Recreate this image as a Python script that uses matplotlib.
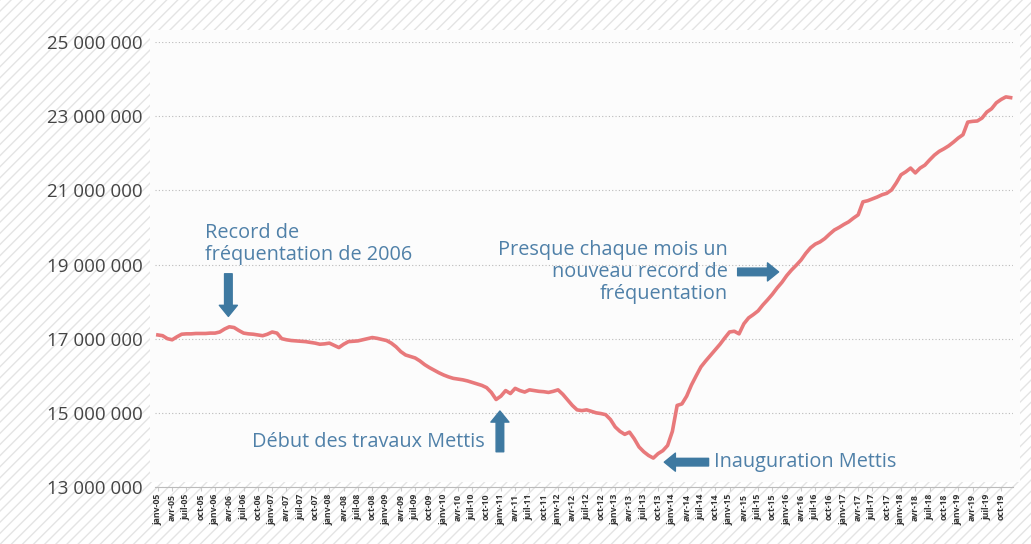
import numpy as np
import matplotlib
matplotlib.use("Agg")
import matplotlib.pyplot as plt
from matplotlib.patches import Rectangle
from matplotlib.ticker import FuncFormatter

# Fréquentation mensuelle (cumul 12 mois), en millions, janv-05 -> déc-19
v2005 = [17.10, 17.08, 17.00, 16.97, 17.05, 17.12, 17.13, 17.13, 17.14, 17.14, 17.14, 17.15]
v2006 = [17.15, 17.18, 17.26, 17.32, 17.30, 17.22, 17.15, 17.13, 17.12, 17.10, 17.08, 17.12]
v2007 = [17.18, 17.15, 17.00, 16.97, 16.95, 16.94, 16.93, 16.92, 16.90, 16.88, 16.85, 16.86]
v2008 = [16.88, 16.82, 16.76, 16.85, 16.92, 16.93, 16.94, 16.97, 17.00, 17.03, 17.01, 16.98]
v2009 = [16.95, 16.88, 16.78, 16.65, 16.56, 16.52, 16.48, 16.40, 16.30, 16.22, 16.15, 16.08]
v2010 = [16.02, 15.97, 15.93, 15.91, 15.89, 15.86, 15.82, 15.78, 15.74, 15.68, 15.55, 15.36]
v2011 = [15.45, 15.60, 15.52, 15.66, 15.60, 15.56, 15.62, 15.60, 15.58, 15.57, 15.55, 15.58]
v2012 = [15.62, 15.50, 15.35, 15.20, 15.08, 15.06, 15.08, 15.04, 15.00, 14.98, 14.95, 14.82]
v2013 = [14.62, 14.50, 14.42, 14.48, 14.30, 14.08, 13.95, 13.85, 13.78, 13.90, 13.98, 14.12]
v2014 = [14.50, 15.20, 15.24, 15.45, 15.75, 16.00, 16.24, 16.40, 16.55, 16.70, 16.85, 17.02]
v2015 = [17.18, 17.20, 17.13, 17.40, 17.56, 17.65, 17.75, 17.91, 18.05, 18.20, 18.37, 18.52]
v2016 = [18.70, 18.85, 18.98, 19.12, 19.30, 19.45, 19.55, 19.61, 19.70, 19.82, 19.93, 20.00]
v2017 = [20.08, 20.15, 20.25, 20.34, 20.69, 20.72, 20.77, 20.82, 20.88, 20.92, 21.01, 21.20]
v2018 = [21.42, 21.50, 21.60, 21.47, 21.60, 21.68, 21.82, 21.95, 22.05, 22.12, 22.20, 22.30]
v2019 = [22.41, 22.50, 22.84, 22.86, 22.87, 22.95, 23.11, 23.20, 23.36, 23.45, 23.52, 23.50]

years = list(range(2005, 2020))
month_names = ["janv", "avr", "juil", "oct"]
tick_labels = [f"{m}-{str(y)[2:]}" for y in years for m in month_names]

values = np.array(v2005 + v2006 + v2007 + v2008 + v2009 + v2010 + v2011 + v2012
                  + v2013 + v2014 + v2015 + v2016 + v2017 + v2018 + v2019) * 1e6
months = np.arange(len(values))

text_col = "#4f80a8"
arrow_col = "#3e79a1"
line_col = "#e8797b"

plt.rcParams["font.family"] = ["Open Sans", "DejaVu Sans"]
plt.rcParams["hatch.linewidth"] = 1.0
plt.rcParams["hatch.color"] = "#e4e4e4"

fig = plt.figure(figsize=(10.31, 5.44), dpi=100)
fig.patch.set_facecolor("white")
# fond hachuré + zone claire
fig.patches.append(Rectangle((0, 0), 1, 1, transform=fig.transFigure,
                             facecolor="white", edgecolor="#e4e4e4", hatch="///",
                             linewidth=0, zorder=-10))
fig.patches.append(Rectangle((150 / 1031, 1 - 482 / 544), 870 / 1031, 452 / 544,
                             transform=fig.transFigure, facecolor="#fcfcfc",
                             edgecolor="none", zorder=-9))

ax = fig.add_axes([155 / 1031, 1 - 487 / 544, 858 / 1031, 445 / 544])
ax.set_facecolor("none")

ax.plot(months, values, color=line_col, lw=2.6, solid_joinstyle="round")

ax.set_xlim(-0.6, 179.5)
ax.set_ylim(13e6, 25e6)
ax.set_yticks(np.arange(13e6, 25.1e6, 2e6))
ax.yaxis.set_major_formatter(FuncFormatter(lambda v, p: f"{int(v):,}".replace(",", " ")))
ax.set_xticks(np.arange(0, 180, 3))
ax.set_xticklabels(tick_labels, rotation=90, fontsize=6.3, fontweight="bold", color="#333333")

ax.grid(axis="y", linestyle=(0, (1, 2)), color="#bbbbbb", lw=0.8)
ax.set_axisbelow(True)
for s in ["top", "right", "left"]:
    ax.spines[s].set_visible(False)
ax.spines["bottom"].set_color("#bbbbbb")
ax.tick_params(axis="y", length=0, labelsize=13.5, labelcolor="#444444", pad=9)
ax.tick_params(axis="x", length=3, color="#cccccc", pad=2)

arrow = dict(arrowstyle="simple,head_length=0.8,head_width=1.3,tail_width=0.55",
             color=arrow_col, shrinkA=0, shrinkB=0)
fs = 14.3

# Record 2006
ax.annotate("", xy=(14.8, 17.6e6), xytext=(14.8, 18.75e6), arrowprops=arrow)
ax.text(9.9, 20.12e6, "Record de\nfréquentation de 2006", color=text_col, fontsize=fs,
        ha="left", va="top", linespacing=1.15)

# Début des travaux
ax.annotate("", xy=(71.8, 15.05e6), xytext=(71.8, 13.95e6), arrowprops=arrow)
ax.text(68.6, 14.22e6, "Début des travaux Mettis", color=text_col, fontsize=fs,
        ha="right", va="center")

# Inauguration
ax.annotate("", xy=(106.3, 13.67e6), xytext=(115.6, 13.67e6), arrowprops=arrow)
ax.text(116.7, 13.67e6, "Inauguration Mettis", color=text_col, fontsize=fs,
        ha="left", va="center")

# Nouveaux records
ax.annotate("", xy=(130.3, 18.8e6), xytext=(121.7, 18.8e6), arrowprops=arrow)
ax.text(119.6, 18.8e6, "Presque chaque mois un\nnouveau record de\nfréquentation",
        color=text_col, fontsize=fs, ha="right", va="center", multialignment="right",
        linespacing=1.15)

fig.savefig("out.png", dpi=100)
